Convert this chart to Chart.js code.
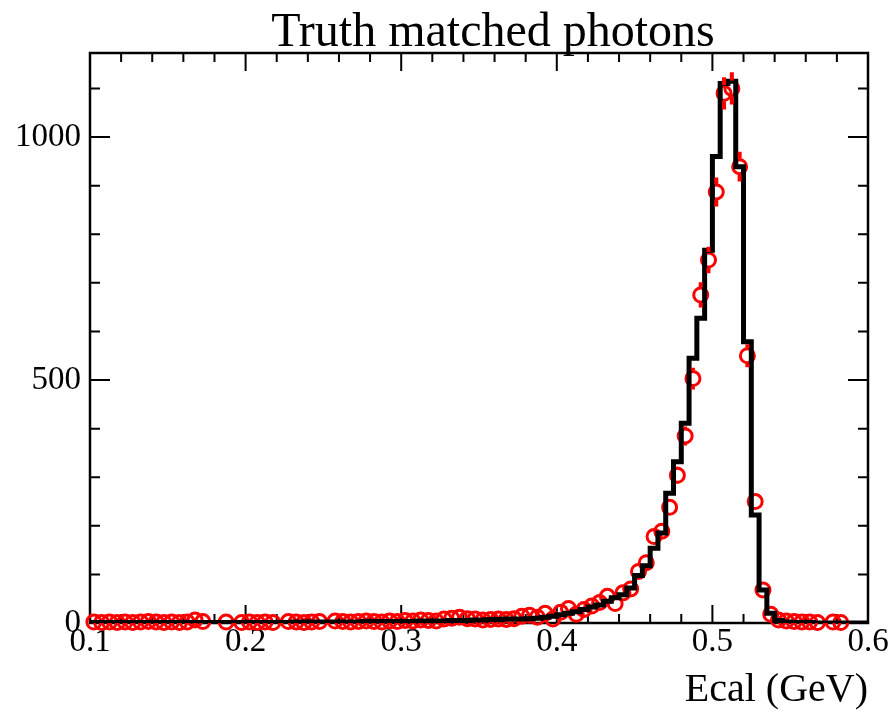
<!DOCTYPE html>
<html>
<head>
<meta charset="utf-8">
<title>Truth matched photons</title>
<script src="https://cdn.jsdelivr.net/npm/chart.js@4.4.1/dist/chart.umd.min.js"></script>
<style>
  html, body { margin: 0; padding: 0; background: #fff; }
</style>
</head>
<body>
<canvas id="ecalChart" width="892" height="715"></canvas>
<script>
// Ecal energy, 100 bins of 0.005 GeV between 0.1 and 0.6
const binLow = 0.1;
const binWidth = 0.005;

// simulated spectrum (black histogram)
const mcCounts = [
  1, 1, 1, 1, 1, 1, 1, 1, 1, 1,
  1, 1, 1, 1, 1, 1, 1, 1, 1, 1,
  1, 1, 1, 1, 1, 1, 2, 2, 2, 2,
  2, 2, 2, 2, 2, 3, 3, 3, 3, 3,
  3, 3, 4, 4, 4, 4, 5, 5, 5, 6,
  6, 7, 7, 8, 8, 8, 9, 10, 12, 14,
  17, 20, 23, 28, 33, 37, 45, 52, 58, 72,
  98, 118, 154, 185, 267, 332, 411, 545, 627, 767,
  960, 1110, 1115, 939, 579, 222, 68, 20, 5, 2,
  1, 1, 1, 0, 0, 0, 0, 0, 0, 0
];

// truth matched candidates (red points, sqrt(N) errors)
const dataCounts = [
  2, 1, 2, 1, 2, 1, 2, 3, 2, 1,
  2, 1, 2, 6, 3, 0, 0, 2, 0, 1,
  2, 1, 2, 1, 0, 3, 2, 1, 2, 3,
  0, 4, 3, 2, 3, 4, 3, 2, 4, 3,
  5, 4, 6, 5, 4, 8, 10, 12, 9, 8,
  6, 7, 8, 7, 9, 14, 16, 12, 20, 8,
  22, 30, 18, 28, 35, 42, 55, 40, 62, 70,
  106, 124, 178, 189, 238, 304, 385, 503, 675, 747,
  887, 1090, 1100, 939, 550, 250, 68, 18, 6, 4,
  3, 2, 2, 1, 0, 2, 1, 0, 0, 0
];

const xTicks = [0.1, 0.2, 0.3, 0.4, 0.5, 0.6];
const yTicks = [0, 500, 1000];
const xMinorStep = 0.02;
const yMinorStep = 100;
const yMax = 1173;

const serif = "'Liberation Serif', 'Times New Roman', serif";
const markerRadius = 7;

// histogram outline: one point per lower bin edge, closed at the upper edge
const histPoints = mcCounts.map((v, i) => ({ x: binLow + i * binWidth, y: v }));
histPoints.push({ x: binLow + mcCounts.length * binWidth, y: mcCounts[mcCounts.length - 1] });

// markers at bin centres, empty bins are not drawn
const dataPoints = [];
dataCounts.forEach((v, i) => {
  if (v > 0) dataPoints.push({ x: binLow + (i + 0.5) * binWidth, y: v });
});

// frame, inward ticks, title and error bars
const rootStyle = {
  id: "rootStyle",
  beforeDatasetsDraw(chart) {
    const { ctx, chartArea: a, scales: { x, y } } = chart;
    ctx.save();
    ctx.strokeStyle = "#000";
    ctx.lineWidth = 2;
    ctx.beginPath();
    for (let v = 0; v <= yMax; v += yMinorStep) {
      const py = y.getPixelForValue(v);
      const len = yTicks.includes(v) ? 20 : 10;
      ctx.moveTo(a.left, py); ctx.lineTo(a.left + len, py);
      ctx.moveTo(a.right, py); ctx.lineTo(a.right - len, py);
    }
    for (let k = 0; k <= 25; k++) {
      const v = 0.1 + k * xMinorStep;
      const px = x.getPixelForValue(v);
      const len = k % 5 === 0 ? 18 : 9;
      ctx.moveTo(px, a.bottom); ctx.lineTo(px, a.bottom - len);
      ctx.moveTo(px, a.top); ctx.lineTo(px, a.top + len);
    }
    ctx.stroke();
    ctx.lineWidth = 2.5;
    ctx.strokeRect(a.left, a.top, a.right - a.left, a.bottom - a.top);

    ctx.fillStyle = "#000";
    ctx.font = "48px " + serif;
    ctx.textAlign = "center";
    ctx.textBaseline = "alphabetic";
    ctx.fillText("Truth matched photons", 493, 46);
    ctx.restore();
  },
  afterDatasetsDraw(chart) {
    const { ctx, scales: { y } } = chart;
    const meta = chart.getDatasetMeta(1);
    ctx.save();
    ctx.strokeStyle = "#ff0000";
    ctx.lineWidth = 4;
    ctx.beginPath();
    meta.data.forEach((pt, i) => {
      const v = dataPoints[i].y;
      const err = Math.sqrt(v);
      const top = y.getPixelForValue(v + err);
      const bot = y.getPixelForValue(Math.max(v - err, 0));
      const gap = markerRadius + 1;
      if (pt.y - top > gap) { ctx.moveTo(pt.x, top); ctx.lineTo(pt.x, pt.y - gap); }
      if (bot - pt.y > gap) { ctx.moveTo(pt.x, pt.y + gap); ctx.lineTo(pt.x, bot); }
    });
    ctx.stroke();
    ctx.restore();
  }
};

new Chart(document.getElementById("ecalChart"), {
  type: "line",
  data: {
    datasets: [
      {
        label: "MC",
        data: histPoints,
        stepped: "before",
        borderColor: "#000",
        borderWidth: 5,
        pointRadius: 0,
        fill: false
      },
      {
        label: "Truth matched",
        data: dataPoints,
        showLine: false,
        pointStyle: "circle",
        pointRadius: markerRadius,
        pointBorderWidth: 3,
        pointBorderColor: "#ff0000",
        pointBackgroundColor: "rgba(0,0,0,0)",
        clip: false
      }
    ]
  },
  options: {
    responsive: false,
    animation: false,
    layout: { padding: { top: 53, right: 24, left: 0, bottom: 0 } },
    plugins: { legend: { display: false }, tooltip: { enabled: false } },
    scales: {
      x: {
        type: "linear",
        min: 0.1,
        max: 0.6,
        grid: { display: false, drawTicks: false, tickLength: 0 },
        border: { display: false },
        afterBuildTicks: (s) => { s.ticks = xTicks.map((v) => ({ value: v })); },
        afterFit: (s) => { s.height = 92; },
        ticks: {
          color: "#000",
          font: { family: serif, size: 33 },
          padding: 0,
          maxRotation: 0,
          autoSkip: false,
          callback: (v) => Number(v).toFixed(1)
        },
        title: {
          display: true,
          text: "Ecal (GeV)",
          align: "end",
          color: "#000",
          font: { family: serif, size: 40 },
          padding: { top: 0, bottom: 1 }
        }
      },
      y: {
        type: "linear",
        min: 0,
        max: yMax,
        grid: { display: false, drawTicks: false, tickLength: 0 },
        border: { display: false },
        afterBuildTicks: (s) => { s.ticks = yTicks.map((v) => ({ value: v })); },
        afterFit: (s) => { s.width = 90; },
        ticks: {
          color: "#000",
          font: { family: serif, size: 33 },
          padding: 9,
          callback: (v) => String(v)
        }
      }
    }
  },
  plugins: [rootStyle]
});
</script>
</body>
</html>
